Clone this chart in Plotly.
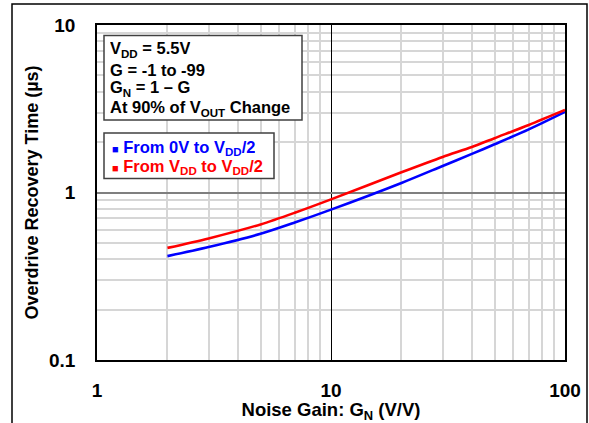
import plotly.graph_objects as go

# Noise gain (V/V)
noise_gain = [2, 3, 5, 7, 10, 20, 30, 40, 50, 70, 100]
# Overdrive recovery time (µs)
t_from_0v = [0.417, 0.473, 0.567, 0.662, 0.79, 1.14, 1.44, 1.70, 1.94, 2.38, 3.03]
t_from_vdd = [0.467, 0.532, 0.645, 0.757, 0.91, 1.32, 1.63, 1.87, 2.11, 2.53, 3.11]

x_ticks = [1, 10, 100]
x_tick_text = ["1", "10", "100"]
x_minor = [2, 3, 4, 5, 6, 7, 8, 9, 20, 30, 40, 50, 60, 70, 80, 90]
y_ticks = [0.1, 1, 10]
y_tick_text = ["0.1", "1", "10"]
y_minor = [0.2, 0.3, 0.4, 0.5, 0.6, 0.7, 0.8, 0.9, 2, 3, 4, 5, 6, 7, 8, 9]

info_lines = [
    "V<sub>DD</sub> = 5.5V",
    "G = -1 to -99",
    "G<sub>N</sub> = 1 – G",
    "At 90% of V<sub>OUT</sub> Change",
]
series_names = ["From 0V to V<sub>DD</sub>/2", "From V<sub>DD</sub> to V<sub>DD</sub>/2"]

FONT = "Liberation Sans, Arial, sans-serif"
BLUE = "#0000ff"
RED = "#ff0000"
GRID = "#d6d6d6"

# Plot area in pixels (left, right, top, bottom)
W, H = 589, 423
PL, PR, PT, PB = 97, 565, 25, 360


def px(x):
    return (x - PL) / (PR - PL)


def py(y):
    return (PB - y) / (PB - PT)


fig = go.Figure()
fig.add_trace(go.Scatter(x=noise_gain, y=t_from_0v, mode="lines",
                         line=dict(color=BLUE, width=2.6, shape="spline", smoothing=0.8),
                         showlegend=False))
fig.add_trace(go.Scatter(x=noise_gain, y=t_from_vdd, mode="lines",
                         line=dict(color=RED, width=2.6, shape="spline", smoothing=0.8),
                         showlegend=False))

tick_font = dict(family=FONT, size=19, color="black", weight="bold")

fig.update_xaxes(
    type="log", range=[0, 2],
    tickvals=x_ticks, ticktext=x_tick_text, tickfont=tick_font,
    ticks="", ticklabelstandoff=12,
    showgrid=True, gridcolor="black", gridwidth=1,
    minor=dict(tickmode="array", tickvals=x_minor, showgrid=True,
               gridcolor=GRID, gridwidth=1.5, ticks=""),
    showline=True, linecolor="black", linewidth=1.5, mirror=True,
    zeroline=False, automargin=False,
    title=dict(text="<b>Noise Gain: G<sub>N</sub> (V/V)</b>",
               font=dict(family=FONT, size=18.5, color="black"), standoff=3),
)
fig.update_yaxes(
    type="log", range=[-1, 1],
    tickvals=y_ticks, ticktext=y_tick_text, tickfont=tick_font,
    ticks="", ticklabelstandoff=16,
    showgrid=True, gridcolor="#7f7f7f", gridwidth=2,
    minor=dict(tickmode="array", tickvals=y_minor, showgrid=True,
               gridcolor=GRID, gridwidth=1.5, ticks=""),
    showline=True, linecolor="black", linewidth=1.5, mirror=True,
    zeroline=False, automargin=False,
    title=dict(text="<b>Overdrive Recovery Time (µs)</b>",
               font=dict(family=FONT, size=18, color="black"), standoff=6),
)

# Test conditions box
fig.add_shape(type="rect", xref="paper", yref="paper",
              x0=px(104), x1=px(302), y0=py(120), y1=py(35.5),
              line=dict(color="#404040", width=1.5), fillcolor="white", layer="above")
for text, yc in zip(info_lines, [49.5, 69, 88, 108]):
    fig.add_annotation(xref="paper", yref="paper", x=px(109), y=py(yc),
                       xanchor="left", yanchor="middle", showarrow=False,
                       height=17, valign="middle", borderpad=0,
                       text=f"<b>{text}</b>",
                       font=dict(family=FONT, size=16.5, color="black"))

# Series key
fig.add_shape(type="rect", xref="paper", yref="paper",
              x0=px(104), x1=px(274), y0=py(178.5), y1=py(133),
              line=dict(color="#404040", width=1.5), fillcolor="white", layer="above")
for name, color, yc in zip(series_names, [BLUE, RED], [147.5, 167]):
    fig.add_annotation(xref="paper", yref="paper", x=px(111), y=py(yc),
                       xanchor="left", yanchor="middle", showarrow=False,
                       height=16, valign="middle", borderpad=0,
                       text=f"<b><span style='font-size:11px'>■</span> {name}</b>",
                       font=dict(family=FONT, size=16.5, color=color))

# Outer frame around the whole figure
fig.add_shape(type="rect", xref="paper", yref="paper",
              x0=px(12), x1=px(587), y0=py(425), y1=py(4),
              line=dict(color="black", width=1.5), fillcolor="rgba(0,0,0,0)",
              layer="below")

fig.update_layout(
    width=W, height=H,
    margin=dict(l=PL, r=W - PR, t=PT, b=H - PB),
    paper_bgcolor="white", plot_bgcolor="white",
)

fig.write_html("out.html")
